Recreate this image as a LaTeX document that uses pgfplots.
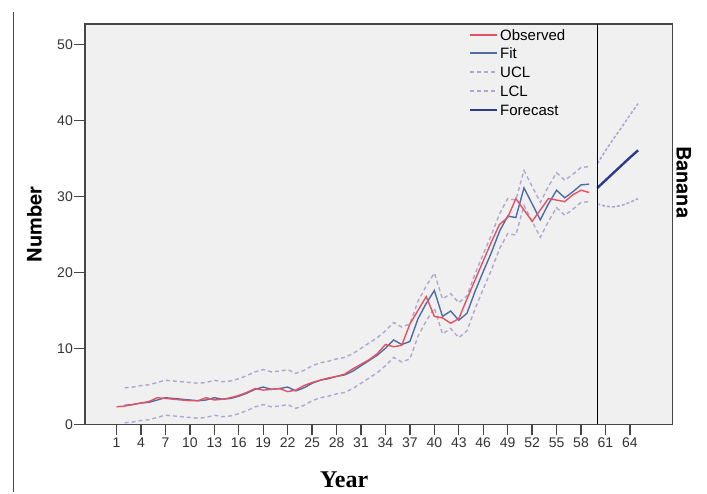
\documentclass[border=0pt]{standalone}
\usepackage{pgfplots}
\pgfplotsset{compat=1.18}
\usepackage{fontspec}
\setmainfont{Liberation Sans}
\newfontfamily\serifb{Liberation Serif}
\newfontfamily\sansb{TeX Gyre Heros}
\definecolor{bgc}{RGB}{240,240,240}
\definecolor{obsc}{RGB}{228,82,98}
\definecolor{fitc}{RGB}{78,108,168}
\definecolor{bandc}{RGB}{178,166,208}
\definecolor{fcc}{RGB}{45,60,140}
\definecolor{axc}{RGB}{70,70,70}
\begin{document}
\begin{tikzpicture}[x=1pt,y=1pt]
\path[use as bounding box] (-85,-68.7) rectangle (622,424.3);
\draw[color={rgb,255:red,190;green,20;blue,20}, line width=0.8pt] (-72,412.3) -- (-72,-67.7);
\begin{axis}[
  at={(0,0)}, anchor=south west,
  scale only axis, width=587.7pt, height=400.3pt,
  xmin=-2.87, xmax=69.25, ymin=0, ymax=52.67,
  clip mode=individual,
  axis background/.style={fill=bgc},
  axis line style={draw=axc, line width=1.3pt},
  xtick={1,4,...,64}, ytick={0,10,...,50},
  tick align=outside, xtick pos=bottom, ytick pos=left,
  major tick length=11pt,
  tick style={draw=axc, line width=1.3pt},
  ticklabel style={font=\fontsize{14}{16}\selectfont, text=black!80},
  /pgf/number format/assume math mode=true,
  xticklabel style={inner sep=1pt, yshift=-1pt},
  yticklabel style={inner sep=1pt},
  xlabel={Year},
  xlabel style={at={(axis description cs:0.441,-0.159)}, anchor=base, font=\serifb\bfseries\fontsize{24}{28}\selectfont},
  ylabel={Number},
  ylabel style={at={(axis description cs:-0.074,0.5)}, anchor=base, font=\sansb\bfseries\fontsize{20}{24}\selectfont},
]
% UCL
\addplot[bandc, line width=1.4pt, dash pattern=on 4pt off 3pt] coordinates {
(2,4.8)(3,4.9)(4,5.1)(5,5.2)(6,5.5)(7,5.8)(8,5.7)(9,5.6)(10,5.5)(11,5.4)(12,5.5)(13,5.8)(14,5.6)(15,5.7)(16,6.0)(17,6.4)(18,6.9)(19,7.2)(20,6.9)(21,7.0)(22,7.2)(23,6.7)(24,7.1)(25,7.7)(26,8.1)(27,8.3)(28,8.6)(29,8.8)(30,9.3)(31,10.0)(32,10.7)(33,11.4)(34,12.3)(35,13.4)(36,12.8)(37,13.2)(38,16.2)(39,18.2)(40,19.9)(41,16.5)(42,17.2)(43,16.0)(44,16.9)(45,19.8)(46,22.4)(47,24.9)(48,27.7)(49,29.7)(50,29.5)(51,33.4)(52,31.3)(53,29.2)(54,31.3)(55,33.1)(56,32.1)(57,32.9)(58,33.8)(59,33.9)};
% LCL
\addplot[bandc, line width=1.4pt, dash pattern=on 4pt off 3pt] coordinates {
(2,0.2)(3,0.3)(4,0.5)(5,0.6)(6,0.9)(7,1.2)(8,1.1)(9,1.0)(10,0.9)(11,0.8)(12,0.9)(13,1.2)(14,1.0)(15,1.1)(16,1.4)(17,1.8)(18,2.3)(19,2.6)(20,2.3)(21,2.4)(22,2.6)(23,2.1)(24,2.5)(25,3.1)(26,3.5)(27,3.7)(28,4.0)(29,4.2)(30,4.7)(31,5.4)(32,6.1)(33,6.8)(34,7.7)(35,8.8)(36,8.2)(37,8.6)(38,11.6)(39,13.6)(40,15.3)(41,11.9)(42,12.6)(43,11.4)(44,12.3)(45,15.2)(46,17.8)(47,20.3)(48,23.1)(49,25.1)(50,24.9)(51,28.8)(52,26.7)(53,24.6)(54,26.7)(55,28.5)(56,27.5)(57,28.3)(58,29.2)(59,29.3)};
% Fit
\addplot[fitc, line width=1.4pt] coordinates {
(2,2.5)(3,2.6)(4,2.8)(5,2.9)(6,3.2)(7,3.5)(8,3.4)(9,3.3)(10,3.2)(11,3.1)(12,3.2)(13,3.5)(14,3.3)(15,3.4)(16,3.7)(17,4.1)(18,4.6)(19,4.9)(20,4.6)(21,4.7)(22,4.9)(23,4.4)(24,4.8)(25,5.4)(26,5.8)(27,6.0)(28,6.3)(29,6.5)(30,7.0)(31,7.7)(32,8.4)(33,9.1)(34,10.0)(35,11.1)(36,10.5)(37,10.9)(38,13.9)(39,15.9)(40,17.6)(41,14.2)(42,14.9)(43,13.7)(44,14.6)(45,17.5)(46,20.1)(47,22.6)(48,25.4)(49,27.4)(50,27.2)(51,31.1)(52,29.0)(53,26.9)(54,29.0)(55,30.8)(56,29.8)(57,30.6)(58,31.5)(59,31.6)};
% Observed
\addplot[obsc, line width=1.4pt] coordinates {
(1,2.3)(2,2.4)(3,2.6)(4,2.8)(5,3.0)(6,3.5)(7,3.4)(8,3.3)(9,3.2)(10,3.1)(11,3.1)(12,3.5)(13,3.2)(14,3.3)(15,3.5)(16,3.8)(17,4.2)(18,4.7)(19,4.5)(20,4.6)(21,4.7)(22,4.3)(23,4.5)(24,5.1)(25,5.5)(26,5.8)(27,6.1)(28,6.3)(29,6.6)(30,7.3)(31,7.9)(32,8.5)(33,9.3)(34,10.5)(35,10.2)(36,10.4)(37,13.2)(38,15.0)(39,16.8)(40,14.2)(41,14.0)(42,13.3)(43,13.9)(44,16.5)(45,19.0)(46,21.5)(47,24.0)(48,26.3)(49,27.2)(50,29.7)(51,28.2)(52,26.7)(53,28.2)(54,29.7)(55,29.5)(56,29.3)(57,30.2)(58,30.8)(59,30.5)};
% Forecast band
\addplot[bandc, line width=1.6pt, dash pattern=on 3pt off 2pt] coordinates {
(60,34.3)(61,36.0)(62,37.6)(63,39.1)(64,40.7)(65,42.2)};
\addplot[bandc, line width=1.6pt, dash pattern=on 3pt off 2pt] coordinates {
(60,29.0)(61,28.7)(62,28.6)(63,28.8)(64,29.2)(65,29.7)};
% Forecast
\addplot[fcc, line width=2.4pt] coordinates {
(60,31.1)(61,32.1)(62,33.1)(63,34.1)(64,35.1)(65,36.05)};
% separator
\addplot[black, line width=1.3pt] coordinates {(60,0)(60,52.67)};
% legend (drawn by hand)
\draw[obsc, line width=1.8pt] (rel axis cs:0.6551,0.9725) -- ++(27pt,0pt);
\draw[fitc, line width=1.8pt] (rel axis cs:0.6551,0.9276) -- ++(27pt,0pt);
\draw[bandc, line width=1.4pt, dash pattern=on 4pt off 3pt] (rel axis cs:0.6551,0.8801) -- ++(27pt,0pt);
\draw[bandc, line width=1.4pt, dash pattern=on 4pt off 3pt] (rel axis cs:0.6551,0.8326) -- ++(27pt,0pt);
\draw[fcc, line width=2.6pt] (rel axis cs:0.6551,0.7852) -- ++(27pt,0pt);
\begin{scope}[every node/.style={anchor=west, inner sep=0pt, font=\fontsize{15}{17}\selectfont}]
\node at (rel axis cs:0.7061,0.9725) {Observed};
\node at (rel axis cs:0.7061,0.9263) {Fit};
\node at (rel axis cs:0.7061,0.8801) {UCL};
\node at (rel axis cs:0.7061,0.8326) {LCL};
\node at (rel axis cs:0.7061,0.7852) {Forecast};
\end{scope}
\node[rotate=-90, anchor=base, font=\sansb\bfseries\fontsize{20}{24}\selectfont] at (rel axis cs:1.0068,0.605) {Banana};
\end{axis}
\end{tikzpicture}
\end{document}
